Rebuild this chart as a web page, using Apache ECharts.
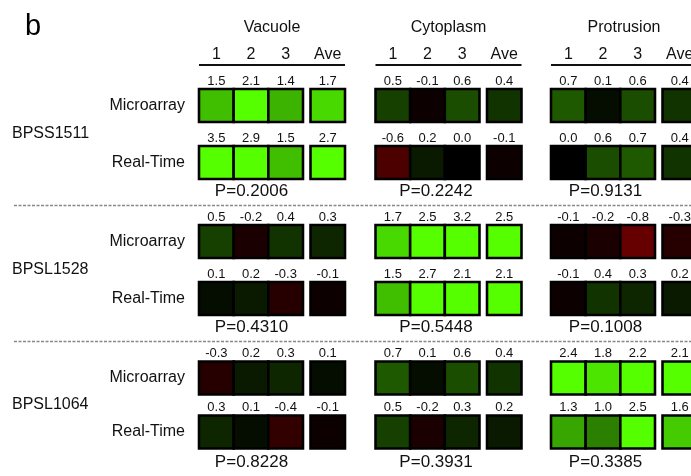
<!DOCTYPE html>
<html>
<head>
<meta charset="utf-8">
<script src="https://cdn.jsdelivr.net/npm/echarts@6/dist/echarts.min.js"></script>
<style>
  html, body { margin: 0; padding: 0; background: #fff; }
  #chart { width: 691px; height: 476px; }
</style>
</head>
<body>
<div id="chart"></div>
<script>
// Expression log ratios: gene × compartment × replicate
const panelLetter = 'b';
const compartments = ['Vacuole', 'Cytoplasm', 'Protrusion'];
const genes = ['BPSS1511', 'BPSL1528', 'BPSL1064'];
const methods = ['Microarray', 'Real-Time'];
const replicates = ['1', '2', '3'];
const averageLabel = ['Ave'];

const microarrayReps = [
  [[1.5, 2.1, 1.4], [0.5, -0.1, 0.6], [0.7, 0.1, 0.6]],
  [[0.5, -0.2, 0.4], [1.7, 2.5, 3.2], [-0.1, -0.2, -0.8]],
  [[-0.3, 0.2, 0.3], [0.7, 0.1, 0.6], [2.4, 1.8, 2.2]]
];
const realTimeReps = [
  [[3.5, 2.9, 1.5], [-0.6, 0.2, 0.0], [0.0, 0.6, 0.7]],
  [[0.1, 0.2, -0.3], [1.5, 2.7, 2.1], [-0.1, 0.4, 0.3]],
  [[0.3, 0.1, -0.4], [0.5, -0.2, 0.3], [1.3, 1.0, 2.5]]
];
const microarrayAve = [[1.7, 0.4, 0.4], [0.3, 2.5, -0.3], [0.1, 0.4, 2.1]];
const realTimeAve = [[2.7, -0.1, 0.4], [-0.1, 2.1, 0.2], [-0.1, 0.2, 1.6]];
const pValues = [[0.2006, 0.2242, 0.9131], [0.4310, 0.5448, 0.1008], [0.8228, 0.3931, 0.3385]];

// Layout
const FONT = '"Liberation Sans", Arial, Helvetica, sans-serif';
const TEXT = '#111';
const groupLeft = [199, 375.5, 551];
const repWidth = 104;
const aveOffset = 111.5;
const aveWidth = 34.5;
const blockTop = [77, 213, 351];
const blockHeight = [114, 114, 108];
const cellHeight = 33;
const pCenterX = [251.5, 436, 605.5];

const grids = [], xAxes = [], yAxes = [], series = [], graphics = [];

function addPanel(g, c, isAve) {
  const idx = grids.length;
  const width = isAve ? aveWidth : repWidth;
  const cats = isAve ? averageLabel : replicates;
  grids.push({
    left: groupLeft[c] + (isAve ? aveOffset : 0),
    top: blockTop[g],
    width: width,
    height: blockHeight[g],
    containLabel: false,
    outerBoundsMode: 'none'
  });
  xAxes.push({
    type: 'category', gridIndex: idx, data: cats, position: 'top',
    axisLine: { show: false }, axisTick: { show: false }, splitLine: { show: false },
    axisLabel: { show: g === 0, fontSize: 16, color: TEXT, fontFamily: FONT, margin: 14 }
  });
  yAxes.push({
    type: 'category', gridIndex: idx, data: methods, inverse: true,
    axisLine: { show: false }, axisTick: { show: false }, splitLine: { show: false },
    axisLabel: { show: c === 0 && !isAve, fontSize: 16, color: TEXT, fontFamily: FONT, margin: 14 }
  });
  const rows = isAve
    ? [[microarrayAve[g][c]], [realTimeAve[g][c]]]
    : [microarrayReps[g][c], realTimeReps[g][c]];
  const data = [];
  rows.forEach((vals, m) => vals.forEach((v, j) => data.push([j, m, v])));
  series.push({
    type: 'scatter', xAxisIndex: idx, yAxisIndex: idx,
    symbol: 'rect',
    symbolSize: [width / cats.length, cellHeight],
    itemStyle: { borderColor: '#000', borderWidth: 2.5, opacity: 1 },
    label: {
      show: true, position: 'top', distance: 0,
      fontSize: 13, color: TEXT, fontFamily: FONT,
      formatter: p => p.value[2].toFixed(1)
    },
    emphasis: { disabled: true },
    data: data
  });
}

genes.forEach((gene, g) => {
  compartments.forEach((comp, c) => {
    addPanel(g, c, false);
    addPanel(g, c, true);
    graphics.push({
      type: 'text', silent: true,
      style: {
        text: 'P=' + pValues[g][c].toFixed(4),
        x: pCenterX[c], y: blockTop[g] + blockHeight[g] + (g === 2 ? 3 : 0),
        textAlign: 'center', textVerticalAlign: 'middle',
        fontSize: 17, fill: TEXT, fontFamily: FONT
      }
    });
  });
  graphics.push({
    type: 'text', silent: true,
    style: {
      text: gene, x: 12, y: blockTop[g] + blockHeight[g] / 2,
      textAlign: 'left', textVerticalAlign: 'middle',
      fontSize: 16, fill: TEXT, fontFamily: FONT
    }
  });
  if (g < genes.length - 1) {
    const y = blockTop[g] + blockHeight[g] + 14.5;
    graphics.push({
      type: 'line', silent: true,
      shape: { x1: 14, y1: y, x2: 691, y2: y },
      style: { stroke: '#888', lineWidth: 1.5, lineDash: [3, 1.5] }
    });
  }
});

compartments.forEach((comp, c) => {
  graphics.push({
    type: 'text', silent: true,
    style: {
      text: comp, x: groupLeft[c] + (aveOffset + aveWidth) / 2, y: 28,
      textAlign: 'center', textVerticalAlign: 'middle',
      fontSize: 16, fill: TEXT, fontFamily: FONT
    }
  });
  graphics.push({
    type: 'line', silent: true,
    shape: { x1: groupLeft[c], y1: 65, x2: groupLeft[c] + aveOffset + aveWidth, y2: 65 },
    style: { stroke: '#111', lineWidth: 2 }
  });
});

graphics.push({
  type: 'text', silent: true,
  style: {
    text: panelLetter, x: 25, y: 27,
    textAlign: 'left', textVerticalAlign: 'middle',
    fontSize: 29, fill: '#000', fontFamily: FONT
  }
});

const chart = echarts.init(document.getElementById('chart'), null, { renderer: 'canvas' });
chart.setOption({
  animation: false,
  backgroundColor: '#fff',
  grid: grids,
  xAxis: xAxes,
  yAxis: yAxes,
  visualMap: {
    type: 'continuous', show: false, dimension: 2,
    min: -2, max: 2,
    inRange: { color: ['#ff0000', '#000000', '#55ff00'] }
  },
  graphic: graphics,
  series: series
});
</script>
</body>
</html>
